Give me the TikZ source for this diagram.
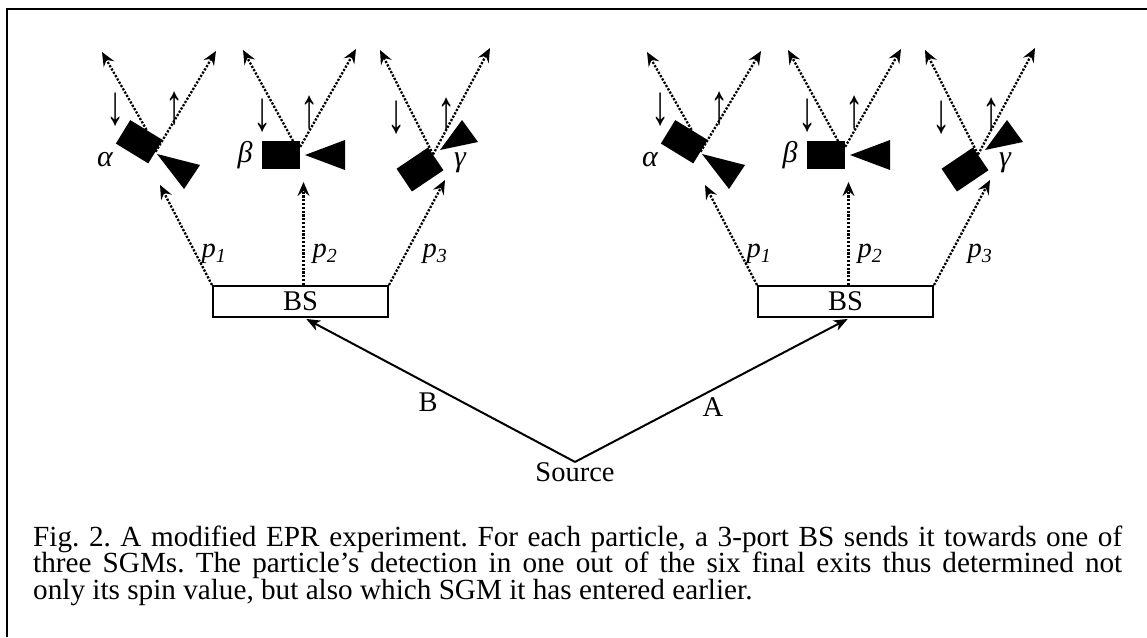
\documentclass[tikz,border=0pt]{standalone}
\usepackage{fontspec}
\setmainfont{Liberation Serif}
\usetikzlibrary{arrows.meta,calc}
\frenchspacing
\newcommand\epside{%
  \node[bsbox] (bs) at (300.5,301.5) {BS};
  \node[sgm, rotate=-31.5] (a) at (139.25,141.75) {};
  \node[sgm] (b) at (281,155) {};
  \node[sgm, rotate=34] (g) at (420,169.5) {};
  \fill (157,154) -- (200,165) -- (184,189) -- cycle;
  \fill (305,155) -- (345,140) -- (345,170) -- cycle;
  \fill (440,150) -- (462,120) -- (478,142) -- cycle;
  \coordinate (ia) at (160,185);
  \coordinate (ib) at (303.5,182);
  \coordinate (ig) at (445,180);
  \draw[ray] (bs.north west) -- (ia);
  \draw[ray] ([xshift=3pt]bs.north) -- (ib);
  \draw[ray] (bs.north east) -- (ig);
  \coordinate (oa1) at (102,52);
  \coordinate (oa2) at (216,51);
  \coordinate (ob1) at (243,50);
  \coordinate (ob2) at (356,49);
  \coordinate (og1) at (380,50);
  \coordinate (og2) at (490,48);
  \draw[ray] (a.north) -- (oa1);
  \draw[ray] (a.east) -- (oa2);
  \draw[ray] (b.49) -- (ob1);
  \draw[ray] (b.23) -- (ob2);
  \draw[ray] (g.15) -- (og1);
  \draw[ray] (g.15) -- (og2);
  \node[spin] (da) at (116,109.5) {\scalebox{1.3}[2.0]{↓}};
  \node[spin] (ua) at (175,108.5) {\scalebox{1.3}[2.0]{↑}};
  \node[spin] (db) at (263,115.5) {\scalebox{1.3}[2.0]{↓}};
  \node[spin] (ub) at (310,112.5) {\scalebox{1.3}[2.0]{↑}};
  \node[spin] (dg) at (397,117.5) {\scalebox{1.3}[2.0]{↓}};
  \node[spin] (ug) at (447,115) {\scalebox{1.3}[2.0]{↑}};
  \node[greek] (la) at (105,160) {α};
  \node[greek] (lb) at (245,155) {β};
  \node[greek] (lg) at (460,163) {γ};
  \node[lbl] (p1) at (214,254) {\textit{p\textsubscript{1}}};
  \node[lbl] (p2) at (325,254) {\textit{p\textsubscript{2}}};
  \node[lbl] (p3) at (435,254) {\textit{p\textsubscript{3}}};
}
\begin{document}
\begin{tikzpicture}[x=1pt,y=-1pt,
  lbl/.style={font=\fontsize{28.5}{30}\selectfont, inner sep=0pt},
  greek/.style={inner sep=0pt, font=\fontsize{30}{30}\selectfont\itshape},
  spin/.style={inner sep=0pt, font=\fontsize{28}{30}\selectfont},
  captext/.style={inner sep=0pt, anchor=base west, font=\fontsize{29.2}{26.5}\selectfont\frenchspacing},
  sgm/.style={fill=black, draw=none, minimum width=38pt, minimum height=27.5pt, inner sep=0pt},
  bsbox/.style={draw, line width=2pt, minimum width=175pt, minimum height=31pt, inner sep=0pt, font=\fontsize{28.5}{30}\selectfont},
  ray/.style={line width=2.3pt, dash pattern=on 2.2pt off 1.6pt, -{Stealth[length=14pt,width=12pt,inset=5pt]}},
  beam/.style={line width=2pt, -{Stealth[length=14pt,width=11pt,inset=4pt]}}
]
\useasboundingbox (0,0) rectangle (1147,637);
\fill[white] (0,0) rectangle (1147,637);
\draw[line width=2pt] (1147,9) -- (7,9) -- (7,637);
\begin{scope}[name prefix=L-]
  \epside
\end{scope}
\begin{scope}[xshift=545pt, name prefix=R-]
  \epside
\end{scope}
\node[lbl, anchor=base] (src) at (575,481) {Source};
\draw[beam, shorten >=2pt] (src.north) -- ([xshift=4pt]L-bs.south);
\draw[beam, shorten >=2pt] (src.north) -- ([xshift=4pt]R-bs.south);
\node[lbl] (lB) at (428,402) {B};
\node[lbl] (lA) at (713,407) {A};
\node[captext] (c1) at (33,546) {\makebox[1089pt][s]{Fig. 2. A modified EPR experiment. For each particle, a 3-port BS sends it towards one of}};
\node[captext] (c2) at (33,572.5) {\makebox[1089pt][s]{three SGMs. The particle’s detection in one out of the six final exits thus determined not}};
\node[captext] (c3) at (33,599) {only its spin value, but also which SGM it has entered earlier.};
\end{tikzpicture}
\end{document}
